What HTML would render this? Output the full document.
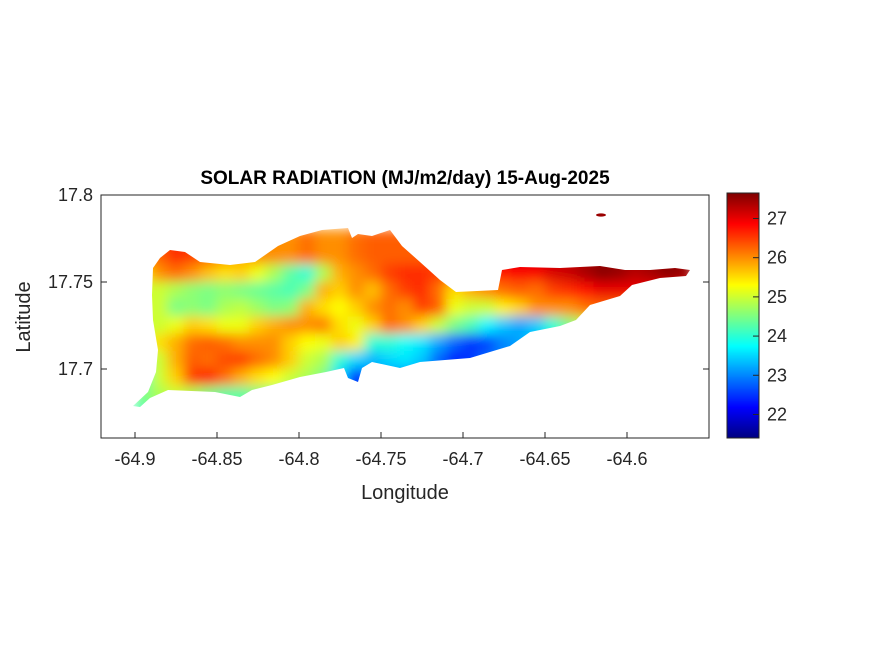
<!DOCTYPE html>
<html><head><meta charset="utf-8"><style>
body{margin:0;background:#fff;}
svg{display:block;font-family:"Liberation Sans",Arial,sans-serif;}
</style></head><body>
<svg id="chart" width="875" height="656" viewBox="0 0 875 656" xmlns="http://www.w3.org/2000/svg">
<defs>
<filter id="blur" x="-5%" y="-10%" width="110%" height="120%"><feGaussianBlur stdDeviation="6"/></filter>
<clipPath id="island"><polygon points="133,406 148,392 156,372 158,350 153,320 152,295 153,268 160,258 170,250 185,252 200,262 230,265 255,262 278,246 300,236 322,230 348,228 352,238 358,234 372,236 390,230 402,246 420,262 440,280 456,292 498,290 502,270 520,267 560,268 600,266 625,270 650,270 675,268 690,270 686,276 660,278 632,285 620,296 590,305 576,320 560,326 530,332 510,346 470,358 420,362 400,368 372,362 362,368 358,382 348,378 344,368 326,372 300,377 272,385 252,390 240,397 215,392 168,390 150,398 140,407"/></clipPath>
</defs>
<rect x="101" y="195" width="608" height="243" fill="#fff" stroke="#262626" stroke-width="1"/>
<g clip-path="url(#island)"><g id="cells" filter="url(#blur)"></g></g>
<ellipse cx="601" cy="215" rx="5" ry="1.6" fill="#9a0000"/>
<g id="axes"></g>
<text x="405" y="184" text-anchor="middle" font-size="19" font-weight="bold" fill="#000">SOLAR RADIATION (MJ/m2/day) 15-Aug-2025</text>
<text x="405" y="499" text-anchor="middle" font-size="20" fill="#262626">Longitude</text>
<text transform="translate(30,317) rotate(-90)" text-anchor="middle" font-size="20" fill="#262626">Latitude</text>
<g id="cbar"></g>
</svg>
<script>
const lons=[-64.895,-64.885,-64.875,-64.865,-64.855,-64.845,-64.835,-64.825,-64.815,-64.805,-64.795,-64.785,-64.775,-64.765,-64.755,-64.745,-64.735,-64.725,-64.715,-64.705,-64.695,-64.685,-64.675,-64.665,-64.655,-64.645,-64.635,-64.625,-64.615,-64.605,-64.595,-64.585,-64.575,-64.565];
const lats=[17.775,17.765,17.755,17.745,17.735,17.725,17.715,17.705,17.695,17.685,17.675];
const r0=[26,26.3,26.6,26.5,26.3,26,25.8,26,26,26,26.2,26,26,26.2,26.3,26.3,26.3,26.3,26.5,26.6,26.6,26.8,27,27,27.1,27.2,27.3,27.4,27.5,27.5,27.6,27.6,27.5,27.4];
const r1=[25.5,26,26.2,26,25.7,25.5,25.6,25.2,24.8,24.3,24,24.8,25.8,26,26.2,26.5,26.6,26.6,26.5,26.5,26.6,26.7,26.8,26.9,26.9,27.1,27.2,27.4,27.6,27.5,27.3,27.4,27.6,27.5];
const r2=[25,25,24.8,24.6,24.5,24.6,24.5,24.4,24.3,24.2,24.5,25.8,25.6,26,25.7,26.2,26.5,26.6,26.2,25.5,25.8,26,26.2,26.3,26.2,26.5,26.6,26.8,27,27,27,27,27,27];
const r3=[25,25,24.5,24.6,24.5,24.8,24.9,24.7,24.5,24.6,25.8,25.5,25.3,25.6,26,26.2,26,26.5,26.3,25.2,25,25,25.4,25.6,26,26,26,26.2,26.3,26.3,26.3,26.3,26.3,26.3];
const r4=[25,25,25.2,25.6,25.5,25.2,25.2,25.6,25.8,26,26,26.1,25.5,25.2,25.6,26.2,26,25.6,25,24.5,24.2,23.7,23.4,23.2,23.4,24,24.5,25,25,25,25,25,25,25];
const r5=[25,25.5,25.8,26.2,26.3,26.2,26,26,26,25.6,25.3,25.2,25.6,25.4,24,24,23.8,23.6,23.2,22.8,22.5,22.6,23,23.2,23.5,24,24.5,25,25,25,25,25,25,25];
const r6=[24.5,25,25.8,26.3,26.2,26.4,26.5,26.2,26,25.6,25,24.8,24,23.5,23.3,23.5,23.6,23.4,22.8,22.3,22.5,22.8,23,23,23,23,23,23,23,23,23,23,23,23];
const r7=[24.2,25,25.6,26.5,26.7,26.2,25.8,25.5,25.3,25,24.8,24.5,23.5,22.2,23,23,23,23,23,23,23,23,23,23,23,23,23,23,23,23,23,23,23,23];
const r8=[24.5,24.8,25,24.8,24.5,24.3,24.3,24.5,24.5,24.5,24.5,24.2,23.2,22.4,23,23,23,23,23,23,23,23,23,23,23,23,23,23,23,23,23,23,23,23];
const r9=[24.2,24.5,24.8,24.6,24.4,24.3,24.3,24.5,24.5,24.5,24.5,24.2,23.2,22.4,23,23,23,23,23,23,23,23,23,23,23,23,23,23,23,23,23,23,23,23];
const r10=r9;
const grid=[r0,r0,r1,r2,r3,r4,r5,r6,r7,r8,r10];
const xTicks=[-64.9,-64.85,-64.8,-64.75,-64.7,-64.65,-64.6];
const xTickLabels=["-64.9","-64.85","-64.8","-64.75","-64.7","-64.65","-64.6"];
const yTicks=[17.7,17.75,17.8];
const yTickLabels=["17.7","17.75","17.8"];
const cTicks=[22,23,24,25,26,27];
const cMin=21.4, cMax=27.65;

const NS="http://www.w3.org/2000/svg";
const xS=v=>135+(v+64.9)/0.05*82;
const yS=v=>282-(v-17.75)/0.05*87;
const cS=v=>438-(v-cMin)/(cMax-cMin)*245;
function jet(t){t=Math.max(0,Math.min(1,t));
 const f=c=>Math.round(255*Math.max(0,Math.min(1,1.5-Math.abs(4*t-c))));
 return `rgb(${f(3)},${f(2)},${f(1)})`;}
function mk(tag,attrs,parent){const e=document.createElementNS(NS,tag);for(const k in attrs)e.setAttribute(k,attrs[k]);parent.appendChild(e);return e;}
const cells=document.getElementById('cells');
const cw=0.01/0.05*82, ch=0.01/0.05*87;
grid.forEach((row,j)=>row.forEach((v,i)=>{
 const r=mk('rect',{x:xS(lons[i])-cw/2-0.5,y:yS(lats[j])-ch/2-0.5,width:cw+1,height:ch+1,fill:jet((v-cMin)/(cMax-cMin))},cells);
 
 
}));
const ax=document.getElementById('axes');
xTicks.forEach((v,i)=>{
 mk('line',{x1:xS(v),x2:xS(v),y1:438,y2:432,stroke:'#262626'},ax);
 const t=mk('text',{x:xS(v),y:465,'text-anchor':'middle','font-size':18,fill:'#262626'},ax);
 t.textContent=xTickLabels[i];
 
 
});
yTicks.forEach((v,i)=>{
 mk('line',{x1:101,x2:107,y1:yS(v),y2:yS(v),stroke:'#262626'},ax);
 mk('line',{x1:709,x2:703,y1:yS(v),y2:yS(v),stroke:'#262626'},ax);
 const t=mk('text',{x:93,y:yS(v)+6,'text-anchor':'end','font-size':18,fill:'#262626'},ax);
 t.textContent=yTickLabels[i];
 
 
});
const cb=document.getElementById('cbar');
for(let k=0;k<245;k++){
 const v=cMin+(k+0.5)/245*(cMax-cMin);
 mk('rect',{x:727,y:437-k,width:32,height:1.2,fill:jet((v-cMin)/(cMax-cMin))},cb);
}
const cbf=mk('rect',{x:727,y:193,width:32,height:245,fill:'none',stroke:'#262626'},cb);


cTicks.forEach(v=>{
 mk('line',{x1:753,x2:759,y1:cS(v),y2:cS(v),stroke:'#262626'},cb);
 const t=mk('text',{x:767,y:cS(v)+6,'font-size':18,fill:'#262626'},cb);
 t.textContent=String(v);
 
 
});
</script>
</body></html>
